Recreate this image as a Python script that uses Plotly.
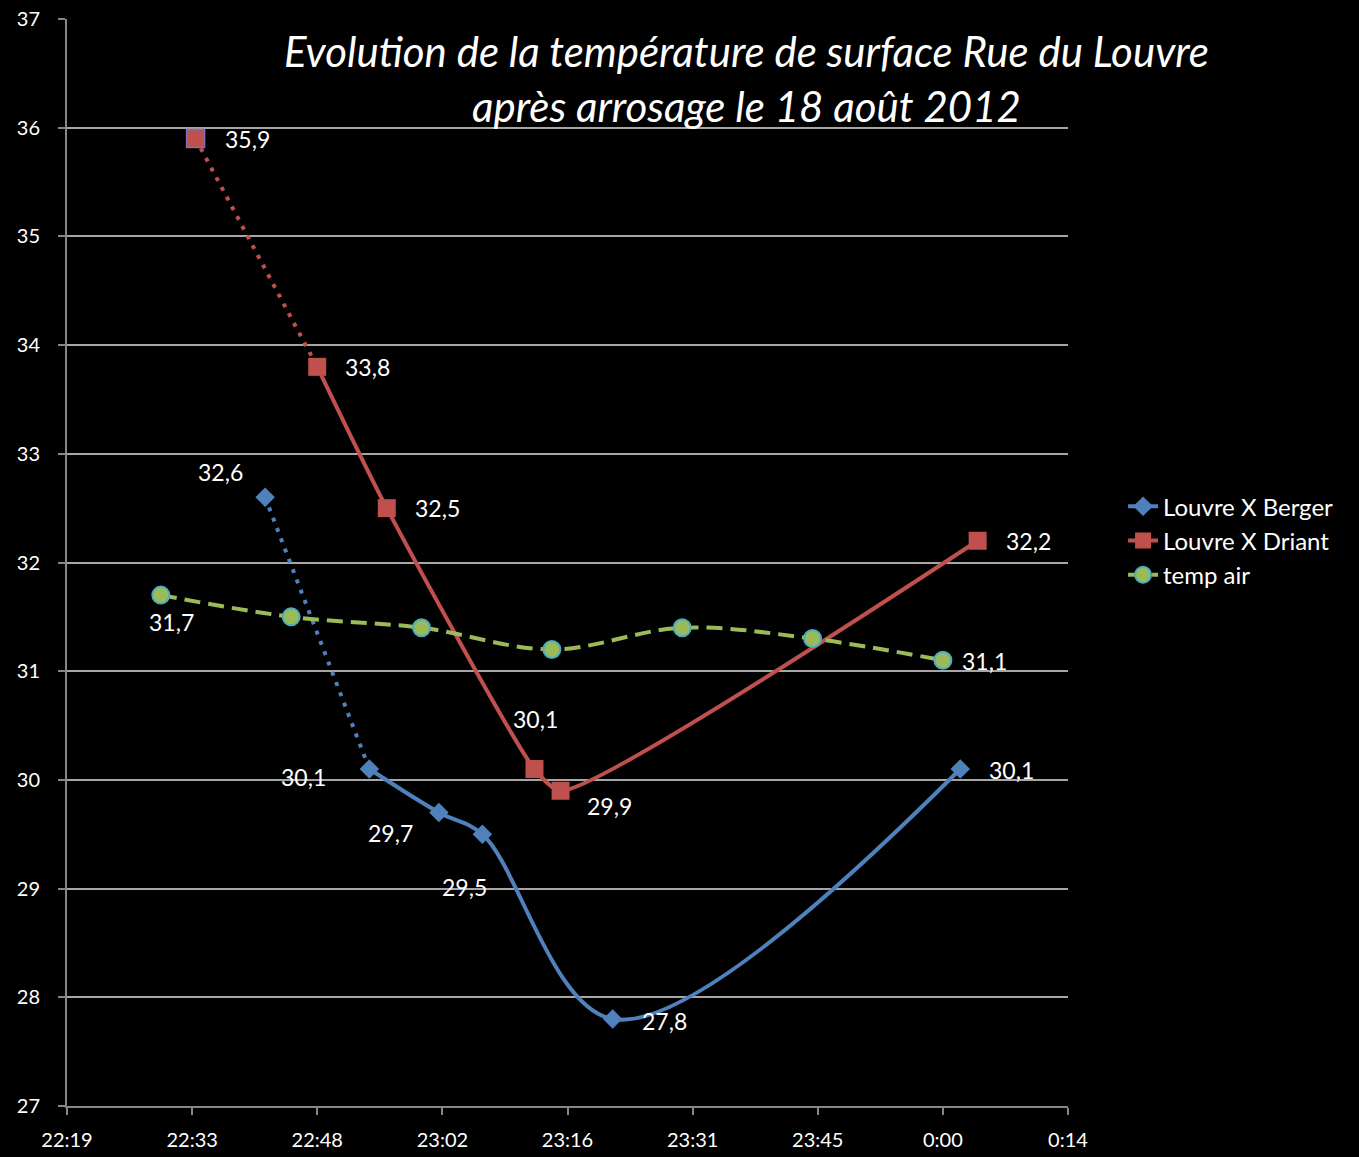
import plotly.graph_objects as go

# ---- data ----
berger_times = ["2012-08-18 22:42", "2012-08-18 22:54", "2012-08-18 23:02", "2012-08-18 23:07",
                "2012-08-18 23:22", "2012-08-19 00:02"]
berger_vals = [32.6, 30.1, 29.7, 29.5, 27.8, 30.1]

driant_times = ["2012-08-18 22:34", "2012-08-18 22:48", "2012-08-18 22:56", "2012-08-18 23:13",
                "2012-08-18 23:16", "2012-08-19 00:04"]
driant_vals = [35.9, 33.8, 32.5, 30.1, 29.9, 32.2]

air_times = ["2012-08-18 22:30", "2012-08-18 22:45", "2012-08-18 23:00", "2012-08-18 23:15",
             "2012-08-18 23:30", "2012-08-18 23:45", "2012-08-19 00:00"]
air_vals = [31.7, 31.5, 31.4, 31.2, 31.4, 31.3, 31.1]

x_tick_vals = ["2012-08-18 22:19:12", "2012-08-18 22:33:36", "2012-08-18 22:48:00",
               "2012-08-18 23:02:24", "2012-08-18 23:16:48", "2012-08-18 23:31:12",
               "2012-08-18 23:45:36", "2012-08-19 00:00:00", "2012-08-19 00:14:24"]
x_tick_text = ["22:19", "22:33", "22:48", "23:02", "23:16", "23:31", "23:45", "0:00", "0:14"]

title_text = "Evolution de la température de surface Rue du Louvre<br>après arrosage le 18 août 2012"

# label placement styles (anchor, xshift, yshift) per point; None = no label
berger_lbl = [("right", -20, 25), ("right", -41, -8), ("right", -24, -20), ("center", -18, -53),
              ("left", 27, -2), ("left", 27, -1)]
driant_lbl = [("left", 27, 0), ("left", 26, 0), ("left", 26, 0), ("center", 1, 50),
              ("left", 24, -15), ("left", 26, 0)]
air_lbl = [("center", 11, -27), None, None, None, None, None, ("left", 17, -1)]

BLUE = "#4F81BD"
RED = "#C0504D"
GREEN = "#9BBB59"
CYAN = "#4BACC6"
FONT = "Lato"
LBL_SIZE = 23
DOT = "4px,7px"


def fmt(v):
    return f"{v:.1f}".replace(".", ",")


fig = go.Figure()

# Berger
fig.add_trace(go.Scatter(
    x=berger_times[:2], y=berger_vals[:2], mode="lines",
    line=dict(color=BLUE, width=4, dash=DOT),
    showlegend=False, legendgroup="b", hoverinfo="skip"))
fig.add_trace(go.Scatter(
    x=berger_times[1:], y=berger_vals[1:], mode="lines+markers",
    name="Louvre X Berger", legendgroup="b",
    line=dict(color=BLUE, width=4, shape="spline", smoothing=1),
    marker=dict(symbol="diamond", size=15, color=BLUE, line=dict(width=0))))
fig.add_trace(go.Scatter(
    x=berger_times[:1], y=berger_vals[:1], mode="markers",
    marker=dict(symbol="diamond", size=15, color=BLUE, line=dict(width=0)),
    showlegend=False, legendgroup="b"))

# Driant
fig.add_trace(go.Scatter(
    x=driant_times[:2], y=driant_vals[:2], mode="lines",
    line=dict(color=RED, width=4, dash=DOT),
    showlegend=False, legendgroup="d", hoverinfo="skip"))
fig.add_trace(go.Scatter(
    x=driant_times[1:], y=driant_vals[1:], mode="lines+markers",
    name="Louvre X Driant", legendgroup="d",
    line=dict(color=RED, width=4, shape="spline", smoothing=0.6),
    marker=dict(symbol="square", size=18, color=RED, line=dict(width=0))))
fig.add_trace(go.Scatter(
    x=driant_times[:1], y=driant_vals[:1], mode="markers",
    marker=dict(symbol="square", size=18, color=RED, line=dict(color="#7F6FBF", width=1.5)),
    showlegend=False, legendgroup="d"))

# Air temperature
fig.add_trace(go.Scatter(
    x=air_times, y=air_vals, mode="lines+markers", name="temp air",
    line=dict(color=GREEN, width=4, dash="16px,8px", shape="spline", smoothing=1),
    marker=dict(symbol="circle", size=17, color=GREEN, line=dict(color=CYAN, width=2))))

# data labels
for times, vals, styles in [(berger_times, berger_vals, berger_lbl),
                            (driant_times, driant_vals, driant_lbl),
                            (air_times, air_vals, air_lbl)]:
    for t, v, s in zip(times, vals, styles):
        if s is None:
            continue
        anchor, dx, dy = s
        fig.add_annotation(x=t, y=v, text=fmt(v), showarrow=False,
                           xanchor=anchor, yanchor="middle", xshift=dx, yshift=dy,
                           font=dict(family=FONT, size=LBL_SIZE, color="white"))

fig.add_annotation(
    text=title_text, xref="paper", yref="paper", x=0.679, y=1.0, yshift=-5,
    xanchor="center", yanchor="top", showarrow=False, align="center",
    font=dict(family=FONT, size=42, color="white", style="italic"))

fig.update_layout(
    width=1359, height=1157,
    paper_bgcolor="black", plot_bgcolor="black",
    margin=dict(l=67, r=291, t=19, b=51, autoexpand=False),
    font=dict(family=FONT, color="white", size=20),
    legend=dict(x=1.055, y=0.52, xanchor="left", yanchor="middle",
                font=dict(size=24, color="white", family=FONT),
                bgcolor="rgba(0,0,0,0)", tracegroupgap=0),
    showlegend=True,
)
fig.update_xaxes(
    type="date", range=[x_tick_vals[0], x_tick_vals[-1]],
    tickmode="array", tickvals=x_tick_vals, ticktext=x_tick_text,
    showgrid=False, zeroline=False, showline=True, linecolor="#868686", linewidth=2,
    ticks="outside", tickcolor="#868686", ticklen=7, tickwidth=2, automargin=False,
    ticklabelstandoff=8,
    tickfont=dict(size=20, color="white", family=FONT))
fig.update_yaxes(
    range=[27, 37], dtick=1, tick0=27,
    showgrid=True, gridcolor="#A6A6A6", gridwidth=2, zeroline=False,
    showline=True, linecolor="#868686", linewidth=2, automargin=False,
    ticks="outside", tickcolor="#868686", ticklen=7, tickwidth=2,
    ticklabelstandoff=14,
    tickfont=dict(size=20, color="white", family=FONT))

fig.write_html("out.html", config={"displayModeBar": False},
               post_script="document.body.style.margin='0';document.body.style.background='black';")
